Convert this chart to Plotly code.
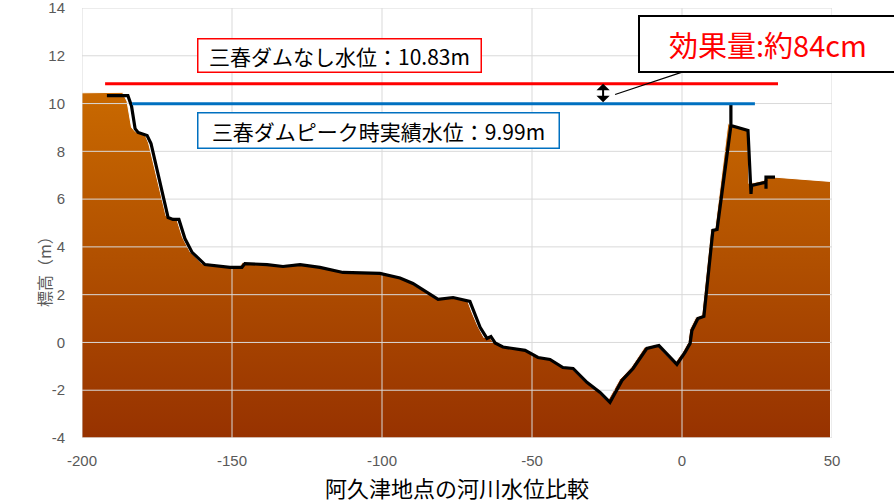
import plotly.graph_objects as go

# Axis ranges and ticks
X_RANGE = [-200, 50]
Y_RANGE = [-4, 14]
x_ticks = [-200, -150, -100, -50, 0, 50]
y_ticks = [-4, -2, 0, 2, 4, 6, 8, 10, 12, 14]

# Ground (terrain) cross-section, filled
terrain_x = [-200.0, -186.5, -185.0, -183.5, -182.2, -179.0, -177.8, -172.0, -170.5, -168.5,
             -166.5, -164.0, -160.0, -151.5, -147.5, -146.5, -139.0, -134.0, -128.0, -121.5,
             -114.0, -101.5, -95.0, -90.5, -82.0, -77.0, -71.5, -70.0, -68.0, -66.0,
             -64.5, -63.0, -60.5, -53.0, -48.7, -44.7, -40.5, -37.0, -32.5, -28.0,
             -24.8, -20.8, -17.0, -12.5, -8.5, -2.5, 0.3, 2.0, 2.6, 4.6,
             6.6, 9.6, 11.0, 15.3, 22.0, 22.3, 27.3, 27.7, 49.5]
terrain_y = [10.45, 10.47, 10.1, 9.0, 8.82, 8.7, 8.35, 5.3, 5.2, 5.2,
             4.4, 3.8, 3.3, 3.18, 3.18, 3.35, 3.3, 3.22, 3.3, 3.18,
             2.97, 2.93, 2.74, 2.5, 1.84, 1.92, 1.76, 1.25, 0.67, 0.2,
             0.28, 0.02, -0.15, -0.29, -0.6, -0.67, -1.0, -1.05, -1.63, -2.05,
             -2.45, -1.55, -1.05, -0.2, -0.08, -0.88, -0.38, 0.0, 0.55, 1.05,
             1.14, 4.74, 4.78, 9.16, 8.91, 6.65, 6.78, 6.95, 6.74]

# Surveyed river cross-section line
line_x = [-191.7, -184.7, -183.5, -182.3, -181.3, -178.3, -177.0, -171.3, -169.7, -167.7,
          -165.7, -163.3, -159.0, -150.7, -146.7, -145.7, -138.3, -133.0, -127.3, -120.7,
          -113.0, -100.7, -94.0, -89.7, -81.3, -76.3, -70.7, -69.0, -67.3, -65.0,
          -63.7, -62.3, -59.7, -52.3, -48.0, -44.0, -39.7, -36.3, -31.7, -27.3,
          -24.0, -20.0, -16.3, -11.7, -7.7, -1.7, 1.0, 2.7, 3.3, 5.3,
          7.3, 10.3, 11.7, 16.3, 16.3, 16.3, 22.0, 23.0, 23.2, 28.0,
          28.0, 28.0, 31.0]
line_y = [10.33, 10.33, 9.9, 8.95, 8.79, 8.66, 8.33, 5.23, 5.15, 5.15,
          4.35, 3.77, 3.26, 3.14, 3.14, 3.30, 3.26, 3.18, 3.26, 3.14,
          2.93, 2.89, 2.70, 2.47, 1.80, 1.88, 1.72, 1.21, 0.63, 0.17,
          0.25, -0.02, -0.19, -0.33, -0.63, -0.71, -1.05, -1.09, -1.67, -2.09,
          -2.51, -1.59, -1.09, -0.25, -0.13, -0.92, -0.42, -0.04, 0.50, 1.00,
          1.09, 4.69, 4.73, 9.08, 9.99, 9.08, 8.87, 6.22, 6.57, 6.71,
          6.43, 6.92, 6.92]

# Water levels
level_without_dam = 10.83
level_actual_peak = 9.99
without_dam_x = [-192.3, 32.0]
actual_peak_x = [-183.3, 24.3]
arrow_x = -26.3

fig = go.Figure()

# Filled ground polygon, closed down to the axis floor
poly_x = terrain_x + [terrain_x[-1], terrain_x[0]]
poly_y = terrain_y + [Y_RANGE[0], Y_RANGE[0]]
fig.add_trace(go.Scatter(
    x=poly_x, y=poly_y, mode="lines", fill="toself",
    line=dict(color="white", width=1),
    fillgradient=dict(type="vertical", start=Y_RANGE[0], stop=10.5,
                      colorscale=[[0, "#973200"], [0.5, "#B04F00"], [1, "#C96900"]]),
    hoverinfo="skip", showlegend=False,
))

# Gridlines drawn over the ground fill
gx, gy = [], []
for t in x_ticks:
    gx += [t, t, None]
    gy += [Y_RANGE[0], Y_RANGE[1], None]
for t in y_ticks:
    gx += [X_RANGE[0], X_RANGE[1], None]
    gy += [t, t, None]
fig.add_trace(go.Scatter(x=gx, y=gy, mode="lines", line=dict(color="#d9d9d9", width=1),
                         hoverinfo="skip", showlegend=False))

# Cross-section line
fig.add_trace(go.Scatter(x=line_x, y=line_y, mode="lines",
                         line=dict(color="black", width=3.2), showlegend=False))

# Water levels
fig.add_trace(go.Scatter(x=without_dam_x, y=[level_without_dam] * 2, mode="lines",
                         line=dict(color="#FF0000", width=3), showlegend=False))
fig.add_trace(go.Scatter(x=actual_peak_x, y=[level_actual_peak] * 2, mode="lines",
                         line=dict(color="#0070C0", width=3), showlegend=False))

jp = "Noto Sans CJK JP"
tick_font = dict(family="Liberation Sans", size=15, color="#595959")
fig.update_layout(
    width=894, height=504,
    margin=dict(l=82, r=62, t=8, b=66),
    plot_bgcolor="white", paper_bgcolor="white",
    xaxis=dict(range=X_RANGE, tickvals=x_ticks, ticktext=[str(t) for t in x_ticks],
               showgrid=False, zeroline=False, showline=False, ticks="", automargin=False,
               ticklabelstandoff=12, ticklabeloverflow="allow", tickfont=tick_font),
    yaxis=dict(range=Y_RANGE, tickvals=y_ticks, ticktext=[str(t) for t in y_ticks],
               showgrid=False, zeroline=False, showline=False, ticks="", automargin=False,
               ticklabelstandoff=16, ticklabeloverflow="allow", tickfont=tick_font),
    annotations=[
        dict(x=-114.3, y=12.0, xref="x", yref="y", showarrow=False,
             text=f"三春ダムなし水位：{level_without_dam:.2f}m",
             font=dict(family=jp, size=21, color="black"),
             bgcolor="white", bordercolor="#FF0000", borderwidth=1.5, borderpad=2,
             width=278, height=28),
        dict(x=-101.3, y=8.87, xref="x", yref="y", showarrow=False,
             text=f"三春ダムピーク時実績水位：{level_actual_peak:.2f}m",
             font=dict(family=jp, size=21, color="black"),
             bgcolor="white", bordercolor="#0070C0", borderwidth=1.5, borderpad=2,
             width=356, height=30),
        # Double-headed arrow between the two levels
        dict(x=arrow_x, y=level_without_dam, ax=arrow_x, ay=level_actual_peak,
             xref="x", yref="y", axref="x", ayref="y", text="", showarrow=True,
             arrowside="end+start", arrowhead=1, arrowsize=1.1, arrowwidth=2,
             arrowcolor="black", standoff=0, startstandoff=0),
        # Effect callout with leader line
        dict(x=-22.3, y=10.38, ax=28.5, ay=12.51, xref="x", yref="y",
             axref="x", ayref="y", showarrow=True, arrowhead=0, arrowwidth=1.2,
             arrowcolor="black",
             text=f"効果量:約{round((level_without_dam - level_actual_peak) * 100)}cm",
             font=dict(family=jp, size=29, color="#FF0000"),
             bgcolor="white", bordercolor="black", borderwidth=2, borderpad=3,
             width=250, height=48),
        dict(x=(30 - 82) / 750, y=(438 - 268) / 430, xref="paper", yref="paper",
             showarrow=False, text="標高（m）", textangle=-90,
             font=dict(family=jp, size=16, color="#595959")),
        dict(x=0.5, y=(438 - 470) / 430, xref="paper", yref="paper",
             xanchor="center", yanchor="top", showarrow=False, borderpad=0,
             text="阿久津地点の河川水位比較",
             font=dict(family=jp, size=22, color="black")),
    ],
)

fig.write_html("out.html")
